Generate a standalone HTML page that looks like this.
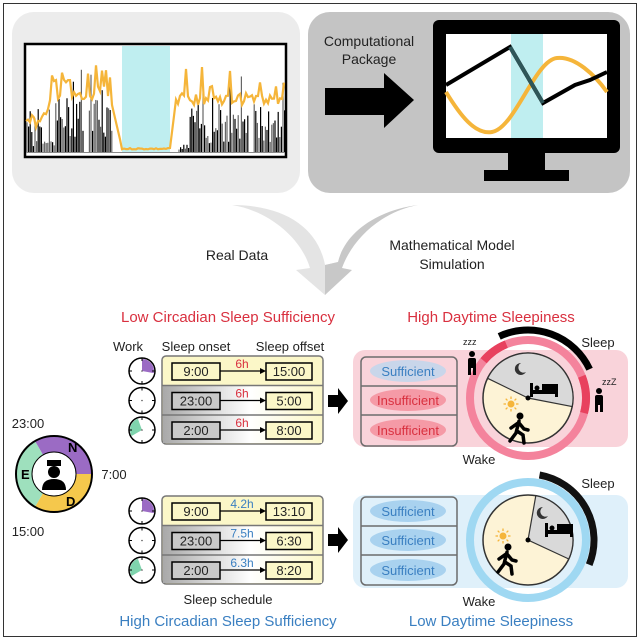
<!DOCTYPE html>
<html><head><meta charset="utf-8"><style>
html,body{margin:0;padding:0;background:#fff}
svg{display:block}
text{font-family:"Liberation Sans",Arial,sans-serif}
</style></head><body>
<svg id="s" width="640" height="640" viewBox="0 0 640 640" xmlns="http://www.w3.org/2000/svg">
<defs>
<linearGradient id="gy" x1="0" x2="1" y1="0" y2="0"><stop offset="0" stop-color="#a9a9a9"/><stop offset="0.55" stop-color="#ffffff"/><stop offset="1" stop-color="#fbf7c8"/></linearGradient>
</defs>
<rect x="3.5" y="3.5" width="633" height="633" fill="#fff" stroke="#333" stroke-width="1"/>
<rect x="12" y="12" width="288" height="181" rx="22" fill="#ececec"/>
<rect x="308" y="12" width="322" height="181" rx="22" fill="#c4c4c4"/>
<rect x="25" y="44" width="261" height="113" fill="#fff" stroke="#000" stroke-width="2.5"/>
<rect x="122" y="46" width="48" height="106" fill="#bfeef0"/>
<g id="spikes" stroke="#000" stroke-width="1.2"></g>
<polyline id="oline" fill="none" stroke="#f5b53a" stroke-width="2.2"/>
<line x1="26" y1="152.5" x2="285" y2="152.5" stroke="#888" stroke-width="1"/>
<text x="369" y="46" font-size="14" text-anchor="middle" fill="#222">Computational</text>
<text x="369" y="64" font-size="14" text-anchor="middle" fill="#222">Package</text>
<polygon points="325,88 384,88 384,73 414,100 384,128 384,115 325,115" fill="#000"/>
<rect x="433" y="20" width="187" height="133" rx="6" fill="#000"/>
<rect x="446" y="34" width="161" height="104" fill="#fff"/>
<rect x="511" y="34" width="32" height="104" fill="#bfeef0"/>
<rect x="508" y="152" width="37" height="20" fill="#000"/>
<rect x="484" y="170" width="85" height="11" fill="#000"/>
<path d="M446,92 C460,115 475,135 492,132 C515,128 535,60 557,58 C575,56 595,75 607,92" fill="none" stroke="#f5b53a" stroke-width="4"/>
<polyline points="446,85 510,47 543,103 575,85 590,80 607,72" fill="none" stroke="#000" stroke-width="4"/>
<line x1="510" y1="47" x2="543" y2="103" stroke="#2e5659" stroke-width="4"/>
<path d="M232,205 C265,210 300,235 310,268 L296,270 L325,295 L338,262 L325,265 C318,228 285,205 232,205 Z" fill="#e4e4e4"/>
<path d="M418,205 C378,210 345,232 338,262 L325,265 L325,295 L352,270 L342,268 C352,240 380,212 418,205 Z" fill="#c8c8c8"/>
<text x="237" y="260" font-size="14" text-anchor="middle" fill="#222">Real Data</text>
<text x="452" y="250" font-size="14" text-anchor="middle" fill="#222">Mathematical Model</text>
<text x="452" y="269" font-size="14" text-anchor="middle" fill="#222">Simulation</text>
<text x="228" y="322" font-size="15" text-anchor="middle" fill="#d9303f">Low Circadian Sleep Sufficiency</text>
<text x="491" y="322" font-size="15" text-anchor="middle" fill="#d9303f">High Daytime Sleepiness</text>
<text x="228" y="626" font-size="15" text-anchor="middle" fill="#3a7fc1">High Circadian Sleep Sufficiency</text>
<text x="491" y="626" font-size="15" text-anchor="middle" fill="#3a7fc1">Low Daytime Sleepiness</text>
<text x="128" y="351" font-size="13" text-anchor="middle" fill="#222">Work</text>
<text x="196" y="351" font-size="13" text-anchor="middle" fill="#222">Sleep onset</text>
<text x="290" y="351" font-size="13" text-anchor="middle" fill="#222">Sleep offset</text>
<text x="228" y="604" font-size="13" text-anchor="middle" fill="#222">Sleep schedule</text>
<path d="M39,448 A30,30 0 0 1 84,474" fill="none" stroke="#9b6bc4" stroke-width="16"/>
<path d="M84,474 A30,30 0 0 1 39,500" fill="none" stroke="#f5c84c" stroke-width="16"/>
<path d="M39,500 A30,30 0 0 1 39,448" fill="none" stroke="#9ee0bd" stroke-width="16"/>
<circle cx="54" cy="474" r="38" fill="none" stroke="#000" stroke-width="2"/>
<circle cx="54" cy="474" r="22" fill="#fff" stroke="#000" stroke-width="1"/>
<rect x="47" y="460" width="14" height="6" fill="#000"/>
<circle cx="54" cy="472" r="6" fill="#000"/>
<path d="M42,490 Q42,479 54,479 Q66,479 66,490 Z" fill="#000"/>
<text x="68" y="452" font-size="13" font-weight="bold">N</text>
<text x="21" y="479" font-size="13" font-weight="bold">E</text>
<text x="66" y="506" font-size="13" font-weight="bold">D</text>
<text x="28" y="428" font-size="13" text-anchor="middle" fill="#222">23:00</text>
<text x="114" y="479" font-size="13" text-anchor="middle" fill="#222">7:00</text>
<text x="28" y="536" font-size="13" text-anchor="middle" fill="#222">15:00</text>
<g id="tables"></g>
<polygon points="328,395 338,395 338,388 348,401 338,414 338,407 328,407" fill="#000"/>
<polygon points="328,534 338,534 338,527 348,540 338,553 338,546 328,546" fill="#000"/>
<rect x="353" y="350" width="275" height="97" rx="12" fill="#f9d3da"/>
<rect x="353" y="495" width="275" height="93" rx="12" fill="#dff0fa"/>
<rect x="361" y="357" width="96" height="89" rx="5" fill="none" stroke="#6c6c6c" stroke-width="1.5"/>
<line x1="361" y1="386" x2="457" y2="386" stroke="#6c6c6c" stroke-width="1.5"/>
<line x1="361" y1="415" x2="457" y2="415" stroke="#6c6c6c" stroke-width="1.5"/>
<ellipse cx="408" cy="371" rx="38" ry="11" fill="#c9d6ea"/>
<ellipse cx="408" cy="400" rx="38" ry="11" fill="#f59aa6"/>
<ellipse cx="408" cy="430" rx="38" ry="11" fill="#f59aa6"/>
<text x="408" y="376" font-size="13" text-anchor="middle" fill="#3a7fc1">Sufficient</text>
<text x="408" y="405" font-size="13" text-anchor="middle" fill="#d9303f">Insufficient</text>
<text x="408" y="435" font-size="13" text-anchor="middle" fill="#d9303f">Insufficient</text>
<rect x="361" y="497" width="96" height="88" rx="5" fill="none" stroke="#6c6c6c" stroke-width="1.5"/>
<line x1="361" y1="526" x2="457" y2="526" stroke="#6c6c6c" stroke-width="1.5"/>
<line x1="361" y1="555" x2="457" y2="555" stroke="#6c6c6c" stroke-width="1.5"/>
<ellipse cx="408" cy="511" rx="38" ry="11" fill="#a9d2ef"/>
<ellipse cx="408" cy="540" rx="38" ry="11" fill="#a9d2ef"/>
<ellipse cx="408" cy="570" rx="38" ry="11" fill="#a9d2ef"/>
<text x="408" y="516" font-size="13" text-anchor="middle" fill="#3a7fc1">Sufficient</text>
<text x="408" y="545" font-size="13" text-anchor="middle" fill="#3a7fc1">Sufficient</text>
<text x="408" y="575" font-size="13" text-anchor="middle" fill="#3a7fc1">Sufficient</text>
<circle cx="528" cy="398" r="58" fill="none" stroke="#f4839c" stroke-width="8"/>
<path d="M483.6,360.7 A58,58 0 0 1 506.3,344.2" fill="none" stroke="#e8415e" stroke-width="8"/>
<path d="M581.8,376.3 A58,58 0 0 1 584,413" fill="none" stroke="#e8415e" stroke-width="8"/>
<path d="M499.2,336.4 A68,68 0 0 1 589.6,369.2" fill="none" stroke="#000" stroke-width="7"/>
<circle cx="528" cy="398" r="45" fill="#fdf3d6" stroke="#333" stroke-width="1.5"/>
<path d="M528,398 L487.6,378.3 A45,45 0 0 1 572.2,406.6 Z" fill="#d9d9d9" stroke="#333" stroke-width="1.2"/>
<circle cx="528" cy="398" r="2.5" fill="#000"/>
<text x="598" y="347" font-size="13" text-anchor="middle" fill="#222">Sleep</text>
<text x="479" y="464" font-size="13" text-anchor="middle" fill="#222">Wake</text>
<circle cx="528" cy="540" r="58" fill="none" stroke="#9fd8f2" stroke-width="8"/>
<path d="M539.5,475 A66,66 0 0 1 589.2,564.7" fill="none" stroke="#111" stroke-width="7"/>
<circle cx="528" cy="540" r="45" fill="#fdf3d6" stroke="#333" stroke-width="1.5"/>
<path d="M528,540 L535.8,495.7 A45,45 0 0 1 568.8,559 Z" fill="#d9d9d9" stroke="#333" stroke-width="1.2"/>
<circle cx="528" cy="540" r="2.5" fill="#000"/>
<text x="598" y="488" font-size="13" text-anchor="middle" fill="#222">Sleep</text>
<text x="479" y="606" font-size="13" text-anchor="middle" fill="#222">Wake</text>
<g id="icons"></g>
</svg>
<script>
var NS="http://www.w3.org/2000/svg";
function el(p,t,a,txt){var e=document.createElementNS(NS,t);for(var k in a)e.setAttribute(k,a[k]);if(txt)e.textContent=txt;p.appendChild(e);return e;}
var seed=7;function r(){seed=(seed*9301+49297)%233280;return seed/233280;}
var g=document.getElementById('spikes');
for(var x=27;x<285;x+=1.6){
 if(x>112&&x<178)continue; if(x>84&&x<88)continue; if(x>248&&x<253&&r()<.6)continue;
 var h;
 if(x<55)h=r()<.5?10+r()*35:5+r()*12; else if(x<112)h=15+r()*(r()<.3?75:40); else if(x<190)h=r()*8; else h=8+r()*(r()<.3?70:40);
 el(g,'line',{x1:x,y1:152,x2:x,y2:152-h,stroke:r()<.4?'#666':'#000'});
}
var pts=[];
for(var x=26;x<=285;x+=2){var y;
 if(x<35)y=115+r()*8; else if(x<50)y=125-(x-35)*1.5+r()*6; else if(x<112)y=102-r()*12-(r()<.15?18:0)-(x>95&&x<108?10:0); else if(x<122)y=105+(x-112)*4.3; else if(x<170)y=148+r()*1.5; else if(x<176)y=148-(x-170)*8; else y=105-r()*(r()<.35?38:12);
 pts.push(x+','+y.toFixed(1));}
document.getElementById('oline').setAttribute('points',pts.join(' '));
var T=document.getElementById('tables');
function table(y0,rows,col){
 el(T,'rect',{x:162,y:y0,width:161,height:88,rx:4,fill:'#fbf7c8',stroke:'#777','stroke-width':1.5});
 for(var i=0;i<3;i++){var yy=y0+i*29.5;
  if(i>0){el(T,'rect',{x:163,y:yy,width:159,height:i==2?28:29.5,fill:'url(#gy)'});el(T,'line',{x1:162,y1:yy,x2:323,y2:yy,stroke:'#777','stroke-width':1.5});}
  var cy=yy+15;
  el(T,'rect',{x:172,y:cy-8,width:48,height:17,fill:i==0?'#fbf7c8':'#c9c9c9',stroke:'#000','stroke-width':1.5});
  el(T,'rect',{x:266,y:cy-8,width:46,height:17,fill:'#fbf7c8',stroke:'#000','stroke-width':1.5});
  el(T,'text',{x:196,y:cy+5,'font-size':13,'text-anchor':'middle',fill:'#222'},rows[i][0]);
  el(T,'text',{x:289,y:cy+5,'font-size':13,'text-anchor':'middle',fill:'#222'},rows[i][1]);
  el(T,'line',{x1:220,y1:cy,x2:262,y2:cy,stroke:'#000','stroke-width':1.3});
  el(T,'polygon',{points:'266,'+cy+' 260,'+(cy-3)+' 260,'+(cy+3),fill:'#000'});
  el(T,'text',{x:242,y:cy-3,'font-size':12,'text-anchor':'middle',fill:col},rows[i][2]);
  var cx=142;
  el(T,'circle',{cx:cx,cy:cy,r:13,fill:'#fff',stroke:'#000','stroke-width':1.5});
  if(i==0)el(T,'path',{d:'M'+cx+','+cy+' L'+cx+','+(cy-12)+' A12,12 0 0 1 '+(cx+11.8)+','+(cy+2.1)+' Z',fill:'#9b6bc4'});
  if(i==2)el(T,'path',{d:'M'+cx+','+cy+' L'+(cx-10.4)+','+(cy+6)+' A12,12 0 0 1 '+(cx-4.1)+','+(cy-11.3)+' Z',fill:'#7fd4ad'});
  for(var a=0;a<12;a+=3){var an=a*Math.PI/6;el(T,'line',{x1:cx+10*Math.sin(an),y1:cy-10*Math.cos(an),x2:cx+13*Math.sin(an),y2:cy-13*Math.cos(an),stroke:'#000'});}
  el(T,'circle',{cx:cx,cy:cy,r:.8,fill:'#555'});
 }
}
table(356,[['9:00','15:00','6h'],['23:00','5:00','6h'],['2:00','8:00','6h']],'#d9303f');
table(496,[['9:00','13:10','4.2h'],['23:00','6:30','7.5h'],['2:00','8:20','6.3h']],'#3a7fc1');
var I=document.getElementById('icons');
function bed(x,y){el(I,'rect',{x:x,y:y,width:3,height:14,fill:'#000'});el(I,'rect',{x:x,y:y+7,width:28,height:4,fill:'#000'});el(I,'rect',{x:x+12,y:y+1,width:16,height:7,fill:'#000'});el(I,'rect',{x:x+25,y:y+7,width:3,height:7,fill:'#000'});el(I,'circle',{cx:x+7,cy:y+5,r:2.5,fill:'#000'});}
function walker(x,y){el(I,'circle',{cx:x+4,cy:y,r:3.5,fill:'#000'});el(I,'path',{d:'M'+(x+3)+','+(y+5)+' l-3,12 l-6,8 M'+(x+1)+','+(y+15)+' l6,4 l1,8 M'+(x+2)+','+(y+7)+' l-7,5 M'+(x+3)+','+(y+7)+' l5,6 l4,1',stroke:'#000','stroke-width':3.5,fill:'none','stroke-linecap':'round'});}
function person(x,y){el(I,'circle',{cx:x,cy:y,r:3,fill:'#000'});el(I,'rect',{x:x-4,y:y+4,width:8,height:10,rx:2,fill:'#000'});el(I,'rect',{x:x-4,y:y+12,width:3,height:9,fill:'#000'});el(I,'rect',{x:x+1,y:y+12,width:3,height:9,fill:'#000'});}
function sun(x,y){el(I,'circle',{cx:x,cy:y,r:3.5,fill:'#f5b53a'});for(var a=0;a<8;a++){var an=a*Math.PI/4;el(I,'line',{x1:x+5*Math.cos(an),y1:y+5*Math.sin(an),x2:x+7.5*Math.cos(an),y2:y+7.5*Math.sin(an),stroke:'#f5b53a','stroke-width':1.3});}}
function moon(x,y){el(I,'path',{d:'M'+x+','+(y-6)+' a6,6 0 1 0 5,9 a5,5 0 1 1 -5,-9 Z',fill:'#333'});}
bed(530,383);moon(521,369);sun(511,404);walker(516,416);
person(472,354);el(I,'text',{x:463,y:345,'font-size':9,fill:'#222'},'zzz');
person(599,391);el(I,'text',{x:602,y:385,'font-size':9,fill:'#222'},'zzZ');
bed(545,523);moon(543,513);sun(503,536);walker(504,547);
</script>
</body></html>
